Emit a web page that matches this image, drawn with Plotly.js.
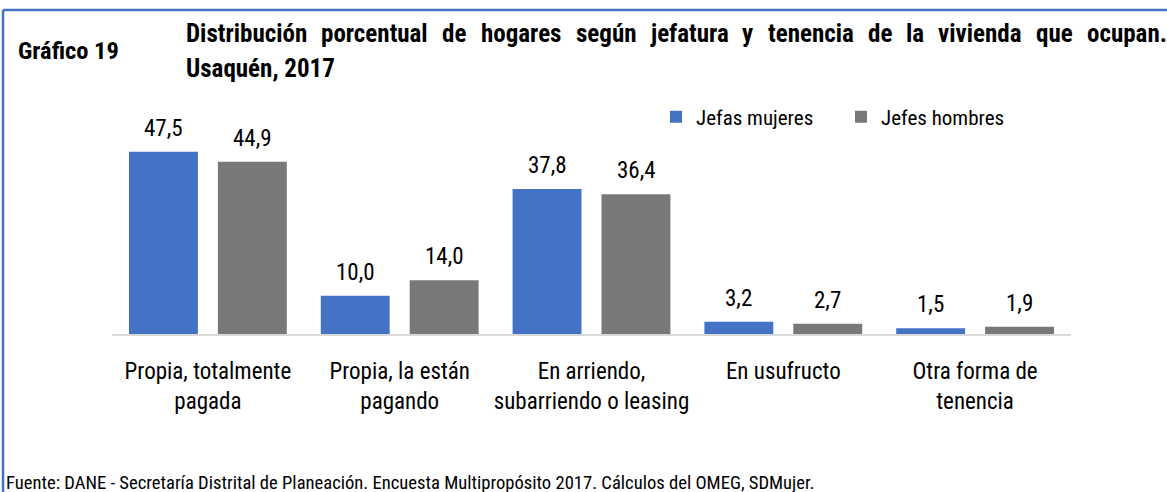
<!DOCTYPE html>
<html>
<head>
<meta charset="utf-8">
<script src="https://cdn.plot.ly/plotly-3.0.1.min.js"></script>
<style>
  html, body { margin: 0; padding: 0; background: #fff; }
  #chart { width: 1167px; height: 492px; }
</style>
</head>
<body>
<div id="chart"></div>
<script>
// ---- Data ----
const categories = [
  "Propia, totalmente<br>pagada",
  "Propia, la están<br>pagando",
  "En arriendo,<br>subarriendo o leasing",
  "En usufructo",
  "Otra forma de<br>tenencia"
];
const jefasMujeres = [47.5, 10.0, 37.8, 3.2, 1.5];
const jefesHombres = [44.9, 14.0, 36.4, 2.7, 1.9];
const seriesNames = ["Jefas mujeres", "Jefes hombres"];
const chartLabel = "Gráfico 19";
const titleLine1 = "Distribución porcentual de hogares según jefatura y tenencia de la vivienda que ocupan.";
const titleLine2 = "Usaquén, 2017";
const sourceText = "Fuente: DANE - Secretaría Distrital de Planeación. Encuesta Multipropósito 2017. Cálculos del OMEG, SDMujer.";

// ---- Layout geometry ----
const W = 1167, H = 492;
const M = { l: 112, r: 96, t: 123, b: 158 };
const PW = W - M.l - M.r, PH = H - M.t - M.b;
const px = x => (x - M.l) / PW;
const py = y => (H - M.b - y) / PH;

const FAM = "Roboto Condensed";
const FONT = "'Roboto Condensed', 'Open Sans', sans-serif";
const BLUE = "#4472C4", GRAY = "#787878";

const fmt = v => v.toFixed(1).replace(".", ",");

const traces = [
  { type: "bar", name: seriesNames[0], x: categories, y: jefasMujeres,
    marker: { color: BLUE }, hoverinfo: "skip" },
  { type: "bar", name: seriesNames[1], x: categories, y: jefesHombres,
    marker: { color: GRAY }, hoverinfo: "skip" }
];

const annotations = [];
// data labels
const offs = 44.5;
[[jefasMujeres, -offs], [jefesHombres, offs]].forEach(([vals, sh]) => {
  vals.forEach((v, i) => {
    annotations.push({
      x: categories[i], y: v, xref: "x", yref: "y",
      text: fmt(v), showarrow: false, xshift: sh, yshift: 8,
      yanchor: "bottom", xanchor: "center",
      font: { family: FONT, size: 23, color: "#000" }
    });
  });
});

// Chart label
annotations.push({
  xref: "paper", yref: "paper", x: px(16), y: py(50), xanchor: "left", yanchor: "middle",
  text: "<b>" + chartLabel + "</b>", showarrow: false,
  font: { family: FONT, size: 24.5, color: "#000" }
});

// Justified title line 1
const TFS = 25;
const canvas = document.createElement("canvas");
const ctx = canvas.getContext("2d");
ctx.font = "bold " + TFS + "px '" + FAM + "'";
const words = titleLine1.split(" ");
const widths = words.map(w => ctx.measureText(w).width);
const x0 = 185, x1 = 1166;
const total = widths.reduce((a, b) => a + b, 0);
const gap = (x1 - x0 - total) / (words.length - 1);
let cx = x0;
words.forEach((w, i) => {
  annotations.push({
    xref: "paper", yref: "paper", x: px(cx), y: py(33), xanchor: "left", yanchor: "middle",
    text: "<b>" + w + "</b>", showarrow: false, borderpad: 0,
    font: { family: FONT, size: TFS, color: "#000" }
  });
  cx += widths[i] + gap;
});
annotations.push({
  xref: "paper", yref: "paper", x: px(185), y: py(68), xanchor: "left", yanchor: "middle",
  text: "<b>" + titleLine2 + "</b>", showarrow: false, borderpad: 0,
  font: { family: FONT, size: TFS, color: "#000" }
});

// Source
annotations.push({
  xref: "paper", yref: "paper", x: px(4), y: py(496), xanchor: "left", yanchor: "bottom",
  text: sourceText, showarrow: false,
  font: { family: FONT, size: 18.6, color: "#000" }
});

const shapes = [
  { type: "line", xref: "paper", yref: "paper", x0: px(3), x1: px(1170), y0: py(10), y1: py(10),
    line: { color: BLUE, width: 2.5 } },
  { type: "line", xref: "paper", yref: "paper", x0: px(3), x1: px(3), y0: py(10), y1: py(500),
    line: { color: BLUE, width: 2.5 } }
];

const layout = {
  width: W, height: H,
  margin: M,
  paper_bgcolor: "#fff", plot_bgcolor: "#fff",
  barmode: "group", bargap: 0.073, bargroupgap: 0.225,
  showlegend: true,
  legend: {
    orientation: "h", x: px(656), y: py(117), xanchor: "left", yanchor: "middle",
    font: { family: FONT, size: 21, color: "#000" }, bgcolor: "rgba(0,0,0,0)",
    entrywidth: 140
  },
  xaxis: {
    type: "category", showline: true, linecolor: "#D9D9D9", linewidth: 2,
    ticks: "", showgrid: false, zeroline: false, tickangle: 0,
    tickfont: { family: FONT, size: 23, color: "#000" }, ticklabelstandoff: 15
  },
  yaxis: {
    range: [0, 55], visible: false, showgrid: false, zeroline: false
  },
  annotations: annotations,
  shapes: shapes
};

Plotly.newPlot("chart", traces, layout, { staticPlot: true, displayModeBar: false });
</script>
</body>
</html>
